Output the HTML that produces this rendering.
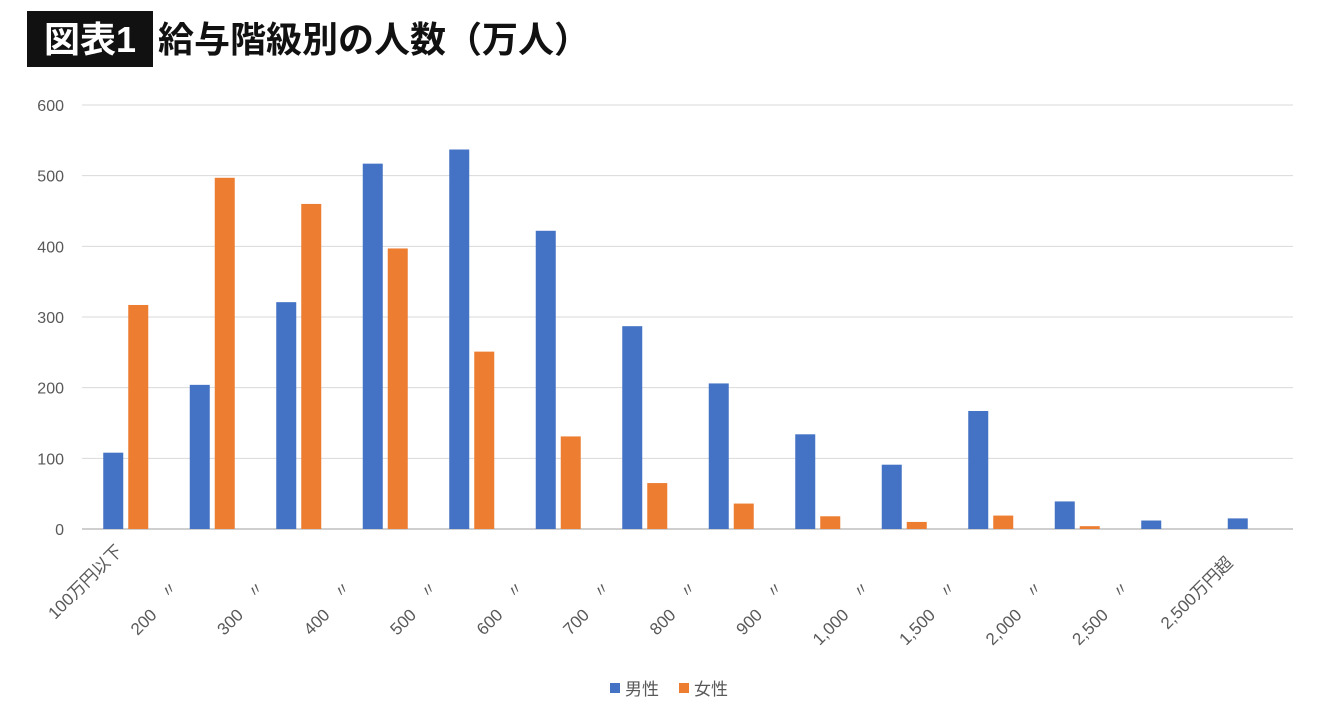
<!DOCTYPE html>
<html><head><meta charset="utf-8"><style>
body{margin:0;background:#fff;width:1340px;height:720px;overflow:hidden;font-family:"Liberation Sans","Noto Sans CJK JP",sans-serif}
</style></head><body>
<svg width="1340" height="720" font-family="Liberation Sans, Noto Sans CJK JP, sans-serif">
<rect x="27" y="11" width="126" height="56" fill="#111"/>
<text x="90" y="52" fill="#fff" font-size="36" font-weight="bold" text-anchor="middle">図表1</text>
<text x="158" y="52" fill="#111" font-size="36" font-weight="bold">給与階級別の人数（万人）</text>
<g id="grid"></g><g id="bars"></g><g id="xl"></g>
<g>
<rect x="610" y="683" width="10" height="10" fill="#4472c4"/>
<text x="625" y="695" font-size="17" fill="#595959">男性</text>
<rect x="679" y="683" width="10" height="10" fill="#ed7d31"/>
<text x="694" y="695" font-size="17" fill="#595959">女性</text>
</g>
</svg>
<script>
const categories=["100万円以下","200","300","400","500","600","700","800","900","1,000","1,500","2,000","2,500","2,500万円超"];
const male=[108,204,321,517,537,422,287,206,134,91,167,39,12,15];
const female=[317,497,460,397,251,131,65,36,18,10,19,4,0,0];
const ticks=[0,100,200,300,400,500,600];
const NS="http://www.w3.org/2000/svg";
const x0=82,x1=1293,yb=529,yt=105,band=(x1-x0)/categories.length;
const y=v=>yb-(v/600)*(yb-yt);
const cx=i=>x0+band*(i+0.5);
function mk(t,a,p){const e=document.createElementNS(NS,t);for(const k in a)e.setAttribute(k,a[k]);p.appendChild(e);return e;}
const g=document.getElementById('grid');
ticks.forEach(t=>{
 const l=mk('line',{x1:x0,x2:x1,y1:y(t),y2:y(t),stroke:t===0?'#bfbfbf':'#d9d9d9','stroke-width':t===0?1.5:1},g);
 
 
 const tx=mk('text',{x:64,y:y(t)+6,'text-anchor':'end','font-size':16,fill:'#595959'},g);
 tx.textContent=t;
 
 
});
const b=document.getElementById('bars'),xl=document.getElementById('xl');
categories.forEach((c,i)=>{
 const m=mk('rect',{x:cx(i)-22,y:y(male[i]),width:20,height:yb-y(male[i]),fill:'#4472c4'},b);
 
 
 const f=mk('rect',{x:cx(i)+3,y:y(female[i]),width:20,height:yb-y(female[i]),fill:'#ed7d31'},b);
 
 
 let ax,ay;
 if(i===0){ax=cx(i)-2;ay=552;}
 else if(i===categories.length-1){ax=cx(i)-16;ay=564;}
 else{ax=cx(i)-54;ay=616;
  const d=mk('text',{x:cx(i)-33,y:588,'font-size':16,fill:'#595959','text-anchor':'end',transform:`rotate(-45 ${cx(i)-33} 588)`},xl);
  d.textContent='〃';
  
  }
 const t=mk('text',{x:ax,y:ay,'font-size':17,fill:'#595959','text-anchor':'end',transform:`rotate(-45 ${ax} ${ay})`},xl);
 t.textContent=c;
 
 
});
</script>
</body></html>
